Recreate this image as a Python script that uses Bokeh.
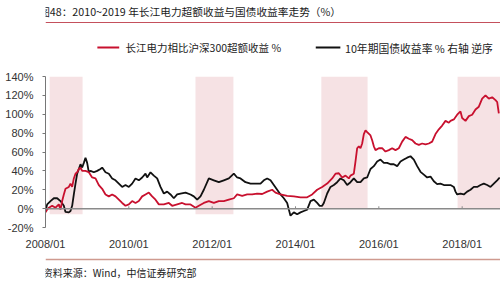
from bokeh.plotting import figure
from bokeh.layouts import column
from bokeh.models import Range1d, FixedTicker, PrintfTickFormatter, Span
from bokeh.core.properties import value
from bokeh.embed import file_html
from bokeh.resources import INLINE

# ---- data ----
excess_years = [2008.00, 2008.04, 2008.08, 2008.16, 2008.24, 2008.32, 2008.36, 2008.40, 2008.44, 2008.48,
                2008.56, 2008.60, 2008.64, 2008.68, 2008.72, 2008.76, 2008.80, 2008.84, 2008.88, 2008.96,
                2009.04, 2009.12, 2009.20, 2009.28, 2009.36, 2009.44, 2009.52, 2009.60, 2009.68, 2009.76, 2009.84, 2009.92,
                2010.00, 2010.08, 2010.16, 2010.24, 2010.32, 2010.40, 2010.48, 2010.56, 2010.64, 2010.72, 2010.84, 2010.96,
                2011.04, 2011.16, 2011.28, 2011.36, 2011.48, 2011.60, 2011.68, 2011.80, 2011.92,
                2012.04, 2012.16, 2012.28, 2012.40, 2012.52, 2012.60, 2012.72, 2012.84, 2012.96,
                2013.08, 2013.20, 2013.32, 2013.44, 2013.52, 2013.64, 2013.80, 2013.96,
                2014.12, 2014.28, 2014.40, 2014.52, 2014.64, 2014.76, 2014.88, 2014.96,
                2015.04, 2015.12, 2015.20, 2015.28, 2015.32, 2015.40, 2015.44, 2015.48, 2015.52, 2015.56, 2015.60,
                2015.64, 2015.68, 2015.72, 2015.80, 2015.84, 2015.88, 2015.92,
                2016.00, 2016.08, 2016.16, 2016.24, 2016.32, 2016.40, 2016.48, 2016.56, 2016.64, 2016.72, 2016.80, 2016.88, 2016.96,
                2017.04, 2017.12, 2017.20, 2017.28, 2017.36, 2017.44, 2017.52, 2017.60, 2017.68, 2017.72, 2017.80, 2017.88, 2017.96,
                2018.00, 2018.08, 2018.16, 2018.24, 2018.32, 2018.40, 2018.48, 2018.56, 2018.64, 2018.72, 2018.80, 2018.84, 2018.88]
excess_values = [-4, -1, 1, 3, 1, 4.5, -1, 8, 15, 21, 23, 26.5, 23, 32, 37, 38.5, 42, 43.5, 40, 40,
                 38.5, 33, 32, 25, 21, 15, 13, 15, 13, 9.5, 6, 3,
                 4.5, 8, 6, 8, 13, 15, 17, 13, 9.5, 4.5, 4.5, 6,
                 3, 4.5, 6, 4.5, 4.5, 1, 3, 6, 8,
                 6, 8, 8, 9.5, 11, 15, 13.5, 15, 15,
                 16, 15.5, 18, 20, 17, 15, 13.5, 13,
                 12, 12, 15, 20, 23, 26.5, 32, 37,
                 37.5, 33, 35, 32, 35, 37, 50, 64, 66, 64, 69, 79, 83, 81, 77.5, 72.5, 66, 62,
                 64, 64, 60.5, 62, 64, 62, 64, 71, 76, 74, 72.5, 69, 67.5,
                 69, 68, 69, 71, 79, 84, 88, 93, 91, 93, 94.5, 99.5, 103,
                 96, 93, 98, 99.5, 105, 108, 116.5, 120, 116.5, 118, 115, 113, 101]

# 10Y bond yield (right axis, reversed) -- expressed in left-axis-equivalent units
bond_years = [2008.00, 2008.04, 2008.12, 2008.20, 2008.28, 2008.36, 2008.44, 2008.48, 2008.56, 2008.60,
              2008.64, 2008.68, 2008.72, 2008.76, 2008.80, 2008.84, 2008.88, 2008.92, 2008.96,
              2009.00, 2009.04, 2009.08, 2009.16, 2009.24, 2009.32, 2009.36, 2009.44, 2009.52, 2009.60,
              2009.68, 2009.76, 2009.84, 2009.92,
              2010.00, 2010.08, 2010.16, 2010.24, 2010.32, 2010.40, 2010.44, 2010.52, 2010.60, 2010.68,
              2010.76, 2010.84, 2010.92,
              2011.00, 2011.08, 2011.16, 2011.24, 2011.36, 2011.48, 2011.56, 2011.64, 2011.72, 2011.80, 2011.92,
              2012.04, 2012.16, 2012.28, 2012.40, 2012.52, 2012.60, 2012.68, 2012.80, 2012.92,
              2013.04, 2013.16, 2013.24, 2013.32, 2013.40, 2013.48, 2013.56, 2013.64, 2013.72, 2013.80,
              2013.84, 2013.88, 2013.96,
              2014.04, 2014.12, 2014.20, 2014.28, 2014.36, 2014.44, 2014.52, 2014.58, 2014.64, 2014.68,
              2014.76, 2014.84, 2014.92,
              2015.00, 2015.08, 2015.16, 2015.24, 2015.32, 2015.40, 2015.48, 2015.56, 2015.64, 2015.72,
              2015.80, 2015.88, 2015.96,
              2016.04, 2016.12, 2016.20, 2016.28, 2016.36, 2016.44, 2016.52, 2016.60, 2016.68, 2016.76,
              2016.84, 2016.92,
              2017.00, 2017.08, 2017.16, 2017.24, 2017.32, 2017.40, 2017.48, 2017.56, 2017.64, 2017.72,
              2017.80, 2017.84, 2017.88, 2017.96,
              2018.04, 2018.12, 2018.20, 2018.28, 2018.36, 2018.44, 2018.52, 2018.60, 2018.68, 2018.76,
              2018.84, 2018.90]
bond_values = [-2.5, 4.5, 8, 11, 11, 8, 3, -3.5, -4, -2.5,
               3, 15, 26.5, 37, 42, 47, 43.5, 48.5, 54,
               48.5, 38.5, 40, 38.5, 40, 42, 43.5, 38.5, 37, 32,
               30, 26.5, 23, 25,
               23, 26.5, 32, 30, 33, 37, 33, 38.5, 35, 32,
               23, 16, 18,
               15, 11, 15, 16, 17, 15, 13, 9.5, 13, 20, 32,
               30, 28, 30, 32, 37, 33, 32, 28, 26.5,
               26.5, 26.5, 30, 32, 30, 25, 20, 15, 11, 6,
               -1, -7.5, -4,
               -6, -4, -2.5, -1, 8, 9.5, 6, 3, 3, 6,
               16, 23, 25,
               28, 32, 30, 25, 28, 32, 28, 28, 32, 33,
               42, 45, 50,
               52, 48.5, 48.5, 47, 47, 45, 50, 52, 54, 55.5,
               52, 45,
               39, 36, 33, 34, 29, 26, 26.5, 25, 25, 25,
               23, 18, 15, 16,
               15, 18, 20, 23, 23, 25, 26.5, 25, 23, 26.5,
               30, 33]

band_starts = [2008.10, 2011.60, 2014.62, 2017.89]
band_ends = [2008.89, 2012.51, 2015.73, 2019.20]
band_tops = [140, 140, 140, 140]
band_bottoms = [-6, -6, 0, 0]

y_ticks = [-20, 0, 20, 40, 60, 80, 100, 120, 140]
x_ticks = [2008, 2010, 2012, 2014, 2016, 2018]
x_tick_labels = ["2008/01", "2010/01", "2012/01", "2014/01", "2016/01", "2018/01"]

title_text = "图48：2010~2019 年长江电力超额收益与国债收益率走势（%）"
legend_red = "长江电力相比沪深300超额收益 %"
legend_black = "10年期国债收益率 % 右轴 逆序"
source_text = "资料来源：Wind，中信证券研究部"

CJK = value("Noto Sans CJK SC")
RED = "#c8102e"
BLACK = "#111111"


def blank_fig(height, y_top):
    f = figure(width=500, height=height, x_range=Range1d(0, 500), y_range=Range1d(y_top, 0),
               x_axis_location=None, y_axis_location=None, output_backend="svg",
               toolbar_location=None, min_border=0, outline_line_color=None)
    f.xgrid.visible = False
    f.ygrid.visible = False
    return f


# ---- header: title + legend ----
header = blank_fig(66, 66)
header.text(x=[-7], y=[11], text=[title_text], text_font=CJK, text_font_size="10.7px",
            text_color="#1a1a1a", text_baseline="middle", text_align="left")
header.segment(x0=[0], y0=[22], x1=[500], y1=[22], line_color="#c4505c", line_width=1)
header.segment(x0=[57], y0=[47], x1=[81], y1=[47], line_color=RED, line_width=2)
header.text(x=[88], y=[47], text=[legend_red], text_font=CJK, text_font_size="10.5px",
            text_color="#222222", text_baseline="middle", text_align="left")
header.segment(x0=[297], y0=[47], x1=[324], y1=[47], line_color=BLACK, line_width=2)
header.text(x=[329], y=[47], text=[legend_black], text_font=CJK, text_font_size="10.8px",
            text_color="#222222", text_baseline="middle", text_align="left")

# ---- main chart ----
p = figure(width=500, height=186, x_range=Range1d(2008.0, 2018.92), y_range=Range1d(-20, 140),
           output_backend="svg", toolbar_location=None,
           min_border_left=45, min_border_right=0, min_border_top=10, min_border_bottom=20,
           outline_line_color=None, background_fill_color="white")
p.xgrid.visible = False
p.ygrid.visible = False

p.quad(left=band_starts, right=band_ends, top=band_tops, bottom=band_bottoms,
       fill_color="#f6e2e4", line_color=None)
p.add_layout(Span(location=0, dimension="width", line_color="#8a8a8a", line_width=1.5))
p.segment(x0=x_ticks, y0=[0] * len(x_ticks), x1=x_ticks, y1=[2.5] * len(x_ticks),
          line_color="#8a8a8a", line_width=1)

p.line(bond_years, bond_values, line_color=BLACK, line_width=1.8)
p.line(excess_years, excess_values, line_color=RED, line_width=1.8)

p.xaxis.ticker = FixedTicker(ticks=x_ticks)
p.xaxis.major_label_overrides = dict(zip(x_ticks, x_tick_labels))
p.xaxis.axis_line_color = None
p.xaxis.major_tick_line_color = None
p.xaxis.minor_tick_line_color = None
p.xaxis.major_label_standoff = 4
p.xaxis.major_label_text_font = "Liberation Sans"
p.xaxis.major_label_text_font_size = "11px"
p.xaxis.major_label_text_color = "#333333"

p.yaxis.ticker = FixedTicker(ticks=y_ticks)
p.yaxis.formatter = PrintfTickFormatter(format="%d%%")
p.yaxis.axis_line_color = "#777777"
p.yaxis.major_tick_line_color = "#777777"
p.yaxis.major_tick_out = 3
p.yaxis.major_tick_in = 0
p.yaxis.minor_tick_line_color = None
p.yaxis.major_label_standoff = 9
p.yaxis.major_label_text_font = "Liberation Sans"
p.yaxis.major_label_text_font_size = "11px"
p.yaxis.major_label_text_color = "#333333"

# ---- footer: source ----
footer = blank_fig(48, 48)
footer.segment(x0=[0], y0=[7], x1=[500], y1=[7], line_color="#cf9a8f", line_width=1.5)
footer.text(x=[-3], y=[20], text=[source_text], text_font=CJK, text_font_size="10px",
            text_color="#222222", text_baseline="middle", text_align="left")

layout = column(header, p, footer, spacing=0)
open("out.html", "w").write(file_html(layout, INLINE))
